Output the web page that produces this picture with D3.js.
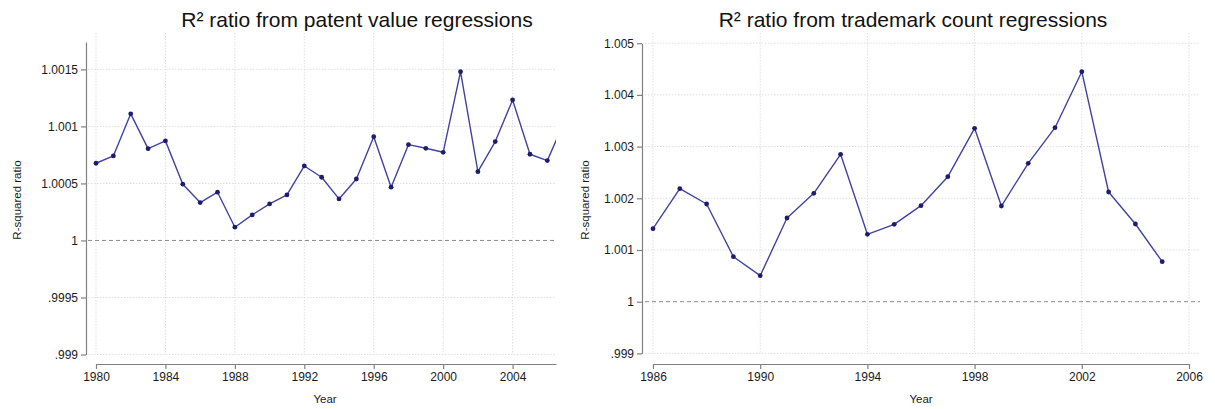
<!DOCTYPE html>
<html>
<head>
<meta charset="utf-8">
<script src="https://cdn.jsdelivr.net/npm/d3@7"></script>
<style>
  html, body { margin: 0; padding: 0; background: #fff; }
  svg { display: block; font-family: "Liberation Sans", Arial, Helvetica, sans-serif; }
  .tick text { fill: #1a1a1a; }
</style>
</head>
<body>
<svg id="chart" width="1215" height="409"></svg>
<script>
// Patent value regressions: R-squared ratio by year
const patentYears = [1980, 1981, 1982, 1983, 1984, 1985, 1986, 1987, 1988, 1989,
  1990, 1991, 1992, 1993, 1994, 1995, 1996, 1997, 1998, 1999,
  2000, 2001, 2002, 2003, 2004, 2005, 2006, 2007];
const patentRatio = [1.000677, 1.000741, 1.00111, 1.000805, 1.000873, 1.000493, 1.000332, 1.000423, 1.000116, 1.000224,
  1.00032, 1.000399, 1.000653, 1.000554, 1.000364, 1.000539, 1.00091, 1.000467, 1.00084, 1.000808,
  1.000773, 1.00148, 1.000603, 1.000867, 1.001232, 1.000756, 1.0007, 1.00105];
const patentXTicks = [1980, 1984, 1988, 1992, 1996, 2000, 2004];
const patentYTicks = [0.999, 0.9995, 1, 1.0005, 1.001, 1.0015];
const patentYLabels = [".999", ".9995", "1", "1.0005", "1.001", "1.0015"];

// Trademark count regressions: R-squared ratio by year
const tmYears = [1986, 1987, 1988, 1989, 1990, 1991, 1992, 1993, 1994, 1995,
  1996, 1997, 1998, 1999, 2000, 2001, 2002, 2003, 2004, 2005];
const tmRatio = [1.001412, 1.002186, 1.00189, 1.00087, 1.000503, 1.001619, 1.002097, 1.002851, 1.001304, 1.001497,
  1.001857, 1.002418, 1.003354, 1.001851, 1.002677, 1.003366, 1.004449, 1.002122, 1.001503, 1.000774];
const tmXTicks = [1986, 1990, 1994, 1998, 2002, 2006];
const tmYTicks = [0.999, 1, 1.001, 1.002, 1.003, 1.004, 1.005];
const tmYLabels = [".999", "1", "1.001", "1.002", "1.003", "1.004", "1.005"];

const svg = d3.select("#chart");
const LINE = "#4242a4", DOT = "#1d1d70", AXIS = "#808080", GRID = "#dedede";

function panel(o) {
  const g = svg.append("g");
  const x = d3.scaleLinear().domain(o.xDomain).range(o.xRange);
  const y = d3.scaleLinear().domain(o.yDomain).range(o.yRange);
  const plotLeft = o.plotX[0], plotRight = o.plotX[1];

  // clip so the series stops at the plot edge
  const clipId = "clip-" + o.id;
  svg.append("defs").append("clipPath").attr("id", clipId)
    .append("rect").attr("x", plotLeft).attr("y", o.plotTop)
    .attr("width", plotRight - plotLeft).attr("height", o.yRange[0] - o.plotTop + 2);

  // vertical grid
  g.selectAll(".vgrid").data(o.xTicks).join("line")
    .attr("x1", d => x(d)).attr("x2", d => x(d))
    .attr("y1", o.plotTop).attr("y2", o.yRange[0])
    .attr("stroke", GRID).attr("stroke-width", 1).attr("stroke-dasharray", "1.5,1.5");

  // horizontal grid (the y=1 reference gets its own dashed line)
  g.selectAll(".hgrid").data(o.yTicks.filter(d => d !== 1)).join("line")
    .attr("x1", plotLeft).attr("x2", plotRight)
    .attr("y1", d => y(d)).attr("y2", d => y(d))
    .attr("stroke", GRID).attr("stroke-width", 1).attr("stroke-dasharray", "1.5,1.5");

  g.append("line")
    .attr("x1", plotLeft).attr("x2", plotRight)
    .attr("y1", y(1)).attr("y2", y(1))
    .attr("stroke", "#8a8a8a").attr("stroke-width", 1).attr("stroke-dasharray", "4,3");

  // series
  const pts = o.years.map((yr, i) => [yr, o.values[i]]);
  const line = d3.line().x(d => x(d[0])).y(d => y(d[1]));
  const sg = g.append("g").attr("clip-path", `url(#${clipId})`);
  sg.append("path").datum(pts).attr("d", line)
    .attr("fill", "none").attr("stroke", LINE).attr("stroke-width", 1.4)
    .attr("stroke-linejoin", "round");
  sg.selectAll("circle").data(pts).join("circle")
    .attr("cx", d => x(d[0])).attr("cy", d => y(d[1])).attr("r", 2.4)
    .attr("fill", DOT);

  // axes
  const yAxis = d3.axisLeft(y).tickValues(o.yTicks)
    .tickFormat((d, i) => o.yLabels[i]).tickSize(5).tickSizeOuter(0).tickPadding(3);
  const ya = g.append("g").attr("transform", `translate(${o.yAxisX},0)`).call(yAxis);
  const xAxis = d3.axisBottom(x).tickValues(o.xTicks)
    .tickFormat(d3.format("d")).tickSize(5).tickSizeOuter(0).tickPadding(3);
  const xa = g.append("g").attr("transform", `translate(0,${o.xAxisY})`).call(xAxis);
  [ya, xa].forEach(a => {
    a.select(".domain").attr("stroke", AXIS).attr("stroke-width", 1.2);
    a.selectAll(".tick line").attr("stroke", AXIS).attr("stroke-width", 1.2);
    a.selectAll(".tick text").attr("font-size", 12).attr("font-family", "Liberation Sans, Arial, sans-serif");
  });

  // titles
  g.append("text").attr("x", o.titleX).attr("y", 27).attr("text-anchor", "middle")
    .attr("font-size", 21).attr("fill", "#111")
    .text(o.title);
  g.append("text").attr("x", o.xTitleX).attr("y", 403).attr("text-anchor", "middle")
    .attr("font-size", 11.5).attr("fill", "#1a1a1a").text("Year");
  g.append("text")
    .attr("transform", `translate(${o.yTitleX},${o.yTitleY}) rotate(-90)`)
    .attr("text-anchor", "middle").attr("font-size", 11.5).attr("fill", "#1a1a1a")
    .text("R-squared ratio");
}

panel({
  id: "patent",
  years: patentYears, values: patentRatio,
  xTicks: patentXTicks, yTicks: patentYTicks, yLabels: patentYLabels,
  xDomain: [1980, 2006.5], xRange: [96, 556],
  yDomain: [0.999, 1.00174], yRange: [354.5, 42],
  plotX: [88, 556], plotTop: 33,
  yAxisX: 86, xAxisY: 364,
  title: "R² ratio from patent value regressions", titleX: 357,
  xTitleX: 325, yTitleX: 21, yTitleY: 200
});

panel({
  id: "trademark",
  years: tmYears, values: tmRatio,
  xTicks: tmXTicks, yTicks: tmYTicks, yLabels: tmYLabels,
  xDomain: [1986, 2006], xRange: [653, 1189],
  yDomain: [0.999, 1.005], yRange: [353.4, 43.2],
  plotX: [645, 1200], plotTop: 33,
  yAxisX: 642, xAxisY: 364,
  title: "R² ratio from trademark count regressions", titleX: 913,
  xTitleX: 921, yTitleX: 589, yTitleY: 200
});
</script>
</body>
</html>
